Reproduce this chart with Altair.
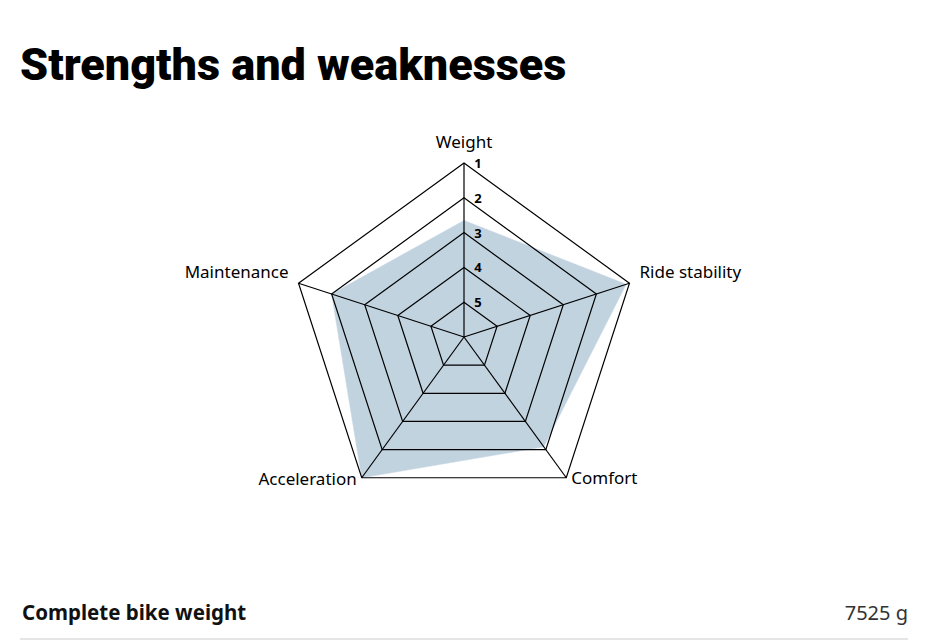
import altair as alt
import pandas as pd

# ---- data ----
categories = ["Weight", "Ride stability", "Comfort", "Acceleration", "Maintenance"]
scores = [2.65, 1.1, 2.1, 1.0, 2.0]          # 1 = best (outer ring), 5 = inner ring
tick_labels = ["1", "2", "3", "4", "5"]
title_text = "Strengths and weaknesses"
spec_label = "Complete bike weight"
spec_value = "7525 g"

# ---- layout ----
W, H = 909, 634
CX, CY = 456, 329
UNIT = 34.8
FONT = "Noto Sans"

xs = alt.Scale(domain=[-5, 5], range=[CX - 5 * UNIT, CX + 5 * UNIT])
ys = alt.Scale(domain=[-5, 5], range=[CY + 5 * UNIT, CY - 5 * UNIT])

axes_df = pd.DataFrame({"axis": categories, "idx": list(range(len(categories))), "score": scores})
grid_df = pd.DataFrame(
    [{"level": lab, "idx": i} for lab in tick_labels for i in range(len(categories))]
)
tick_df = pd.DataFrame({"label": tick_labels})

XE = "datum.r * sin(2 * PI * datum.idx / 5)"
YE = "datum.r * cos(2 * PI * datum.idx / 5)"

X = alt.X("px:Q", scale=xs, axis=None)
Y = alt.Y("py:Q", scale=ys, axis=None)

poly = (
    alt.Chart(axes_df)
    .transform_calculate(r="6 - datum.score")
    .transform_calculate(px=XE, py=YE)
    .mark_line(interpolate="linear-closed", fill="#c2d3e0", stroke="#c2d3e0", strokeWidth=0.5)
    .encode(x=X, y=Y, order=alt.Order("idx:Q"))
)

grid = (
    alt.Chart(grid_df)
    .transform_calculate(r="6 - toNumber(datum.level)")
    .transform_calculate(px=XE, py=YE)
    .mark_line(interpolate="linear-closed", stroke="black", strokeWidth=1.2)
    .encode(x=X, y=Y, detail="level:N", order=alt.Order("idx:Q"))
)

spokes = (
    alt.Chart(axes_df)
    .transform_calculate(r="5", z="0")
    .transform_calculate(px=XE, py=YE)
    .mark_rule(stroke="black", strokeWidth=1.2)
    .encode(x=X, y=Y, x2="z:Q", y2="z:Q")
)

def axis_label(name, align, baseline, dx, dy):
    return (
        alt.Chart(axes_df)
        .transform_filter(alt.datum.axis == name)
        .transform_calculate(r="5")
        .transform_calculate(px=XE, py=YE)
        .mark_text(align=align, baseline=baseline, dx=dx, dy=dy, font=FONT, fontSize=17, color="black")
        .encode(x=X, y=Y, text="axis:N")
    )

labels = [
    axis_label("Weight", "center", "bottom", 0, -11),
    axis_label("Ride stability", "left", "middle", 10, -10),
    axis_label("Comfort", "left", "middle", 5, 1),
    axis_label("Acceleration", "right", "middle", -5, 2),
    axis_label("Maintenance", "right", "middle", -10, -10),
]

ticks = (
    alt.Chart(tick_df)
    .transform_calculate(px="0", py="6 - toNumber(datum.label)")
    .mark_text(align="center", baseline="middle", dx=14, dy=1, font=FONT, fontSize=13, fontWeight="bold", color="black")
    .encode(x=X, y=Y, text="label:N")
)

title = (
    alt.Chart(pd.DataFrame({"t": [title_text]}))
    .mark_text(align="left", baseline="alphabetic", font="Roboto", fontSize=45, fontWeight=900, color="black")
    .encode(x=alt.value(12), y=alt.value(72), text="t:N")
)

spec_l = (
    alt.Chart(pd.DataFrame({"t": [spec_label]}))
    .mark_text(align="left", baseline="middle", font=FONT, fontSize=20.5, fontWeight="bold", color="#111")
    .encode(x=alt.value(14), y=alt.value(606), text="t:N")
)

spec_v = (
    alt.Chart(pd.DataFrame({"t": [spec_value]}))
    .mark_text(align="right", baseline="middle", font=FONT, fontSize=20, color="#333")
    .encode(x=alt.value(900), y=alt.value(606), text="t:N")
)

sep = (
    alt.Chart(pd.DataFrame({"t": [0]}))
    .mark_rule(stroke="#dddddd", strokeWidth=1.5)
    .encode(x=alt.value(12), x2=alt.value(900), y=alt.value(631))
)

chart = (
    alt.layer(poly, grid, spokes, *labels, ticks, title, spec_l, spec_v, sep)
    .properties(width=W, height=H, autosize="none", padding=0)
    .configure_view(stroke=None)
)

chart.save("out.html", embed_options={"renderer": "svg", "actions": False})
